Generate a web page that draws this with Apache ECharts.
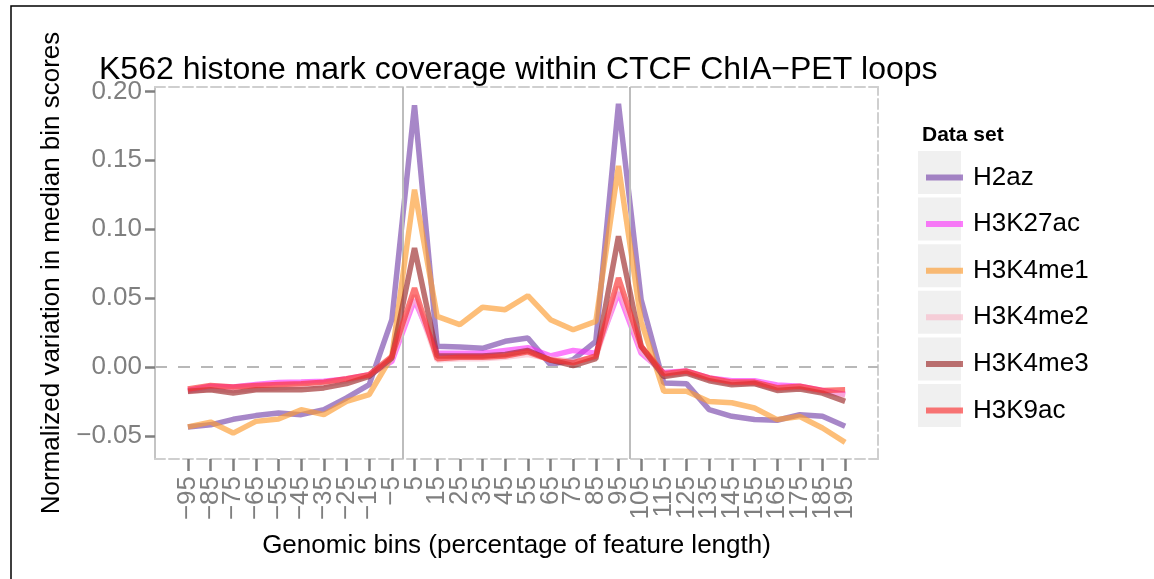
<!DOCTYPE html>
<html>
<head>
<meta charset="utf-8">
<script src="https://cdn.jsdelivr.net/npm/echarts@6/dist/echarts.min.js"></script>
<style>
html,body{margin:0;padding:0;background:#fff;}
#c{width:1154px;height:579px;}
</style>
</head>
<body>
<div id="c"></div>
<script>
// ---- data ----
const bins = [-95,-85,-75,-65,-55,-45,-35,-25,-15,-5,5,15,25,35,45,55,65,75,85,95,105,115,125,135,145,155,165,175,185,195];
const yTicks = [-0.05, 0, 0.05, 0.10, 0.15, 0.20];
const featureEdges = [0, 100];
const seriesNames = ['H2az','H3K27ac','H3K4me1','H3K4me2','H3K4me3','H3K9ac'];
const H2az    = [-0.0435,-0.042,-0.038,-0.0353,-0.0334,-0.0346,-0.031,-0.0225,-0.0128,0.0343,0.190,0.015,0.0145,0.0135,0.0186,0.021,0.0017,0.0053,0.0186,0.191,0.0488,-0.0116,-0.0121,-0.031,-0.0358,-0.0382,-0.0387,-0.0346,-0.0358,-0.0431];
const H3K27ac = [-0.017,-0.014,-0.0145,-0.0128,-0.0112,-0.011,-0.0104,-0.0087,-0.0056,0.004,0.0488,0.010,0.010,0.010,0.012,0.014,0.008,0.012,0.010,0.054,0.010,-0.004,-0.003,-0.008,-0.010,-0.010,-0.013,-0.014,-0.017,-0.020];
const H3K4me1 = [-0.0435,-0.040,-0.048,-0.0395,-0.0378,-0.031,-0.0346,-0.025,-0.020,0.0077,0.1287,0.0367,0.0307,0.0433,0.0416,0.0517,0.0343,0.027,0.0331,0.146,0.033,-0.0177,-0.0177,-0.025,-0.026,-0.0298,-0.0382,-0.036,-0.0443,-0.0547];
const H3K4me2 = [-0.018,-0.016,-0.017,-0.016,-0.015,-0.014,-0.013,-0.010,-0.006,0.006,0.052,0.005,0.006,0.006,0.007,0.009,0.006,0.004,0.007,0.058,0.012,-0.006,-0.004,-0.009,-0.012,-0.012,-0.016,-0.015,-0.018,-0.021];
const H3K4me3 = [-0.0177,-0.0165,-0.0189,-0.0165,-0.0165,-0.0165,-0.0152,-0.0121,-0.0068,0.0065,0.0863,0.008,0.008,0.008,0.009,0.012,0.005,0.001,0.006,0.0948,0.015,-0.007,-0.0045,-0.010,-0.013,-0.012,-0.017,-0.016,-0.019,-0.025];
const H3K9ac  = [-0.016,-0.0135,-0.0145,-0.0135,-0.0128,-0.0121,-0.011,-0.0085,-0.0056,0.0077,0.0573,0.006,0.007,0.007,0.008,0.011,0.005,0.003,0.008,0.0646,0.015,-0.005,-0.003,-0.008,-0.011,-0.011,-0.015,-0.014,-0.017,-0.0165];
const seriesValues = [H2az, H3K27ac, H3K4me1, H3K4me2, H3K4me3, H3K9ac];

// ---- style ----
const colors = ['rgba(120,70,170,0.65)','rgba(250,40,250,0.6)','rgba(252,155,48,0.65)','rgba(248,186,202,0.65)','rgba(155,40,40,0.65)','rgba(250,48,48,0.65)'];
const FONT = '"Liberation Sans", Arial, Helvetica, sans-serif';
const minus = s => String(s).replace('-', '\u2212');
const X_MIN = -109.5, X_MAX = 209.5;
// invisible padding labels at the axis ends so the end labels are never dropped by overlap checks
const xLabelValues = [X_MIN + 0.5].concat(bins, [X_MAX - 0.5]);

const chart = echarts.init(document.getElementById('c'), null, {renderer:'canvas'});

const series = seriesNames.map((n, i) => ({
  name: n,
  type: 'line',
  data: bins.map((b, j) => [b, seriesValues[i][j]]),
  showSymbol: false,
  symbol: 'none',
  color: colors[i],
  lineStyle: {width: 5.5, color: colors[i]},
  z: 3 + i,
  animation: false
}));
series.unshift({
  name: '_ref', type: 'line', data: [], z: 1, silent: true,
  markLine: {
    silent: true, symbol: 'none', animation: false, label: {show: false},
    data: featureEdges.map(v => ({xAxis: v, lineStyle: {color: '#bdbdbd', width: 2, type: 'solid'}}))
      .concat([{yAxis: 0, lineStyle: {color: '#b8b8b8', width: 2, type: [12, 11]}}])
  }
});

const legendTop = 151, legendPitch = 46.6;
const graphics = [{
  type: 'rect', silent: true, z: -1,
  shape: {x: 11, y: 6, width: 1200, height: 640},
  style: {fill: 'none', stroke: '#000', lineWidth: 1.5}
}];
seriesNames.forEach((n, i) => graphics.push({
  type: 'rect', silent: true, z: -1,
  shape: {x: 918, y: legendTop + i * legendPitch, width: 43, height: 43},
  style: {fill: '#f0f0f0'}
}));

chart.setOption({
  animation: false,
  textStyle: {fontFamily: FONT},
  title: [
    {text: 'K562 histone mark coverage within CTCF ChIA\u2212PET loops', left: 94, top: 49,
     textStyle: {fontFamily: FONT, fontSize: 32, fontWeight: 'normal', color: '#000'}},
    {text: 'Data set', left: 917, top: 120,
     textStyle: {fontFamily: FONT, fontSize: 21, fontWeight: 'bold', color: '#000'}}
  ],
  graphic: graphics,
  legend: {
    orient: 'vertical', left: 921, top: legendTop,
    data: seriesNames, icon: 'rect', itemWidth: 37, itemHeight: 6, itemGap: legendPitch - 43,
    textStyle: {fontFamily: FONT, fontSize: 26, color: '#000', lineHeight: 43, padding: [0,0,0,5]},
    selectedMode: false
  },
  grid: {left: 155, right: 276, top: 87, bottom: 120, containLabel: false},
  xAxis: [{
    type: 'value', min: X_MIN, max: X_MAX, position: 'bottom',
    name: 'Genomic bins (percentage of feature length)', nameLocation: 'middle', nameGap: 74,
    nameTextStyle: {fontFamily: FONT, fontSize: 26, color: '#000'},
    axisLine: {show: true, onZero: false, lineStyle: {color: '#cfcfcf', width: 2, type: [10, 4]}},
    axisTick: {show: true, length: 12, customValues: bins, lineStyle: {color: '#7f7f7f', width: 2.5}},
    axisLabel: {show: true, rotate: 90, margin: 17, customValues: xLabelValues,
      formatter: v => bins.indexOf(v) >= 0 ? minus(v) : ' ',
      hideOverlap: false, lineHeight: 18,
      fontFamily: FONT, fontSize: 26, color: '#7f7f7f'},
    splitLine: {show: false}
  }, {
    type: 'value', min: X_MIN, max: X_MAX, position: 'top',
    axisLine: {show: true, onZero: false, lineStyle: {color: '#cfcfcf', width: 2, type: [10, 4]}},
    axisTick: {show: false}, axisLabel: {show: false}, splitLine: {show: false}
  }],
  yAxis: [{
    type: 'value', min: -0.0668, max: 0.2032, position: 'left',
    name: 'Normalized variation in median bin scores', nameLocation: 'middle', nameGap: 90,
    nameTextStyle: {fontFamily: FONT, fontSize: 26, color: '#000'},
    axisLine: {show: true, onZero: false, lineStyle: {color: '#c4c4c4', width: 2}},
    axisTick: {show: true, length: 10, customValues: yTicks, lineStyle: {color: '#7f7f7f', width: 2.5}},
    axisLabel: {show: true, margin: 13, customValues: yTicks, formatter: v => minus(v.toFixed(2)),
      showMinLabel: true, showMaxLabel: true,
      fontFamily: FONT, fontSize: 26, color: '#7f7f7f'},
    splitLine: {show: false}
  }, {
    type: 'value', min: -0.0668, max: 0.2032, position: 'right',
    axisLine: {show: true, onZero: false, lineStyle: {color: '#cfcfcf', width: 2, type: [10, 4]}},
    axisTick: {show: false}, axisLabel: {show: false}, splitLine: {show: false}
  }],
  series: series
});
</script>
</body>
</html>
